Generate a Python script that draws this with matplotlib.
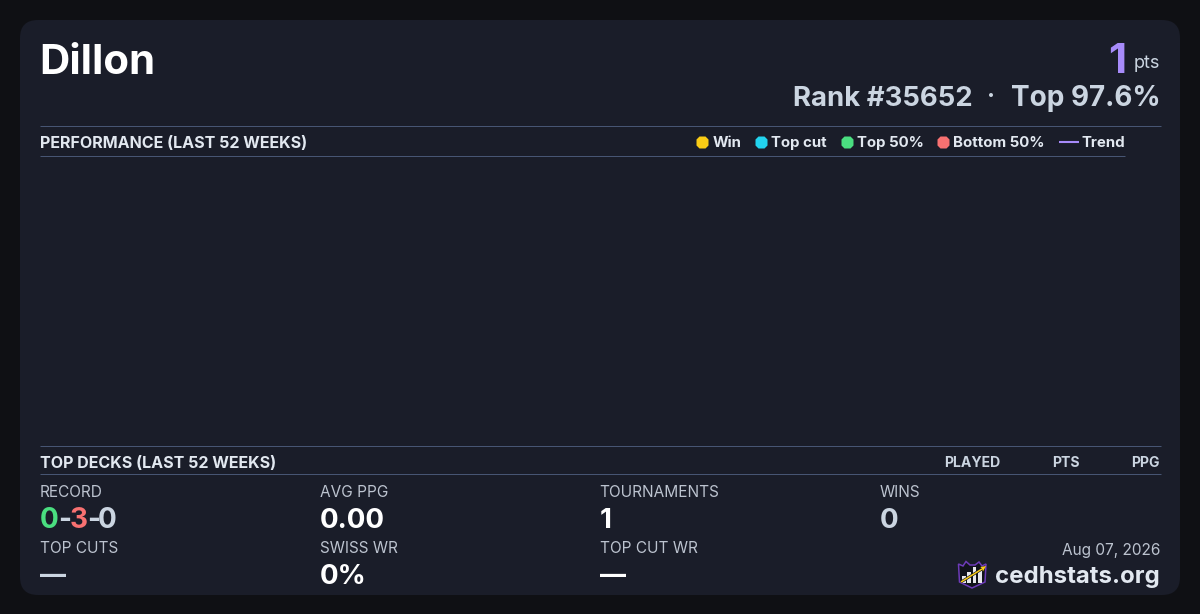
import matplotlib
matplotlib.use("Agg")
import matplotlib.pyplot as plt
import matplotlib.patheffects as pe
from matplotlib.patches import FancyBboxPatch, Polygon, Rectangle

plt.rcParams['font.family'] = ['Inter', 'DejaVu Sans']

player = "Dillon"
points = "1"
rank_text = "Rank #35652"
top_text = "Top 97.6%"
legend_labels = ["Win", "Top cut", "Top 50%", "Bottom 50%"]
legend_colors = ["#facc15", "#22d3ee", "#4ade80", "#f87171"]
legend_dot_x = [702, 761, 847, 943]
legend_text_x = [712.5, 771, 857, 953]
deck_columns = ["PLAYED", "PTS", "PPG"]
deck_column_right = [1000, 1080, 1160]
stat_labels_top = ["AVG PPG", "TOURNAMENTS", "WINS"]
stat_values_top = ["0.00", "1", "0"]
stat_labels_bottom = ["SWISS WR", "TOP CUT WR"]
stat_values_bottom = ["0%", "—"]

BG = "#0f1014"
CARD = "#1a1d29"
RULE = "#475573"
LIGHT = "#e2e8f0"
MUTED = "#cbd5e1"
LABEL = "#bcc3cf"
WHITE = "#ffffff"
PURPLE = "#a78bfa"

fig = plt.figure(figsize=(12, 6.14), dpi=100, facecolor=BG)
ax = fig.add_axes([0, 0, 1, 1])
ax.set_xlim(0, 1200)
ax.set_ylim(614, 0)
ax.axis("off")

ax.add_patch(FancyBboxPatch((20, 20), 1160, 575, boxstyle="round,pad=0,rounding_size=18",
                            fc=CARD, ec="none"))


def t(x, y, s, size, color=WHITE, weight="normal", ha="left"):
    return ax.text(x, y, s, fontsize=size * 0.72, color=color, fontweight=weight,
                   ha=ha, va="baseline")


def rule(x0, x1, y):
    ax.plot([x0, x1], [y, y], color=RULE, lw=0.72, solid_capstyle="butt", snap=True)


# Header
t(39, 74, player, 42, WHITE, "bold")
t(1126, 73, points, 42, PURPLE, "bold", "right")
t(1160, 68, "pts", 18, MUTED, "normal", "right")
t(973, 106, rank_text, 27.5, MUTED, "bold", "right")
t(991, 103, "·", 24, MUTED, "bold", "center")
t(1161, 106, top_text, 27.9, MUTED, "bold", "right")

# Performance section
rule(40, 1160.5, 125.9)
rule(40, 1125, 155.9)
t(40, 148, "PERFORMANCE (LAST 52 WEEKS)", 16.05, LIGHT, "bold")
for lab, col, dx, tx in zip(legend_labels, legend_colors, legend_dot_x, legend_text_x):
    ax.plot([dx], [141.5], marker="8", ms=9.8, color=col, mec="none")
    t(tx, 147, lab, 15, LIGHT, "bold")
ax.plot([1059, 1078.5], [141.5, 141.5], color=PURPLE, lw=1.5, solid_capstyle="butt")
t(1081, 147, "Trend", 15, LIGHT, "bold")

# Decks section
rule(40, 1160.5, 445.9)
rule(40, 1160.5, 473.9)
t(40, 468, "TOP DECKS (LAST 52 WEEKS)", 16.05, LIGHT, "bold")
for lab, xr in zip(deck_columns, deck_column_right):
    t(xr, 467, lab, 14, MUTED, "bold", "right")

# Stats
t(40, 497.4, "RECORD", 15.4, LABEL)
for s, c, x in zip("0-3-0", ["#4ade80", MUTED, "#f87171", MUTED, MUTED], [39.5, 58, 70, 87, 98]):
    t(x, 528, s, 28, c, "bold")
t(40, 553.4, "TOP CUTS", 15.4, LABEL)
t(40, 584, "—", 26, MUTED, "bold")

for x, lab, val, c in zip([320, 599.5, 880], stat_labels_top, stat_values_top, [WHITE, WHITE, MUTED]):
    t(x, 497.4, lab, 15.4, LABEL)
    t(x, 528, val, 27.7, c, "bold")
for x, lab, val in zip([320, 599.5], stat_labels_bottom, stat_values_bottom):
    t(x, 553.4, lab, 15.4, LABEL)
    t(x, 584, val, 26 if val == "—" else 27.7, WHITE, "bold")

# Footer
t(1160, 555, "Aug 07, 2026", 15.4, LABEL, "normal", "right")
t(1160, 583, "cedhstats.org", 24, LIGHT, "bold", "right")

# Logo
shield = [(958.5, 564), (963, 566), (966, 561.5), (970, 565), (975, 565), (979, 562), (982, 566), (986, 564),
          (985, 582), (972, 588), (959.5, 582)]
ax.add_patch(Polygon(shield, closed=True, fc="#11131b", ec="#6d3bb8", lw=1.1))
for x, top in [(964, 576), (969, 572), (974.5, 567), (980, 571)]:
    ax.add_patch(Rectangle((x - 1.6, top), 3.2, 583 - top, fc="#e8e8ec", ec="none"))
outline = [pe.withStroke(linewidth=2.0, foreground="#11131b")]
ax.plot([961, 982], [582, 569], color="#facc15", lw=1.1, solid_capstyle="butt", path_effects=outline)
ax.add_patch(Polygon([(986, 566), (980.5, 567), (983, 571.5)], closed=True, fc="#facc15", ec="none"))

fig.savefig("out.png", dpi=100, facecolor=BG)
